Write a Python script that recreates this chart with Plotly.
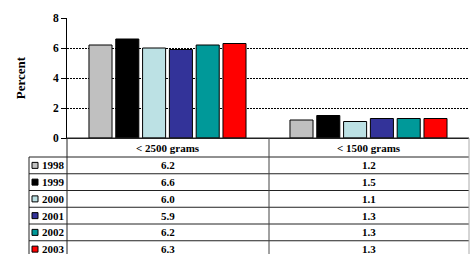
import plotly.graph_objects as go

categories = ["< 2500 grams", "< 1500 grams"]
years = ["1998", "1999", "2000", "2001", "2002", "2003"]
values = {
    "1998": [6.2, 1.2],
    "1999": [6.6, 1.5],
    "2000": [6.0, 1.1],
    "2001": [5.9, 1.3],
    "2002": [6.2, 1.3],
    "2003": [6.3, 1.3],
}
colors = ["#C0C0C0", "#000000", "#BCE1E4", "#333399", "#009999", "#FF0000"]
y_ticks = [0, 2, 4, 6, 8]
y_title = "Percent"

W, H = 470, 254
L, R, T, B = 67, 1, 18, 116
PW, PH = W - L - R, H - T - B
FONT = "Liberation Serif, Times New Roman, serif"


def px(x):
    return (x - L) / PW


def py(y):
    return (H - B - y) / PH


fig = go.Figure()
for yr, c in zip(years, colors):
    fig.add_trace(go.Bar(
        x=categories, y=values[yr], name=yr,
        marker=dict(color=c, line=dict(color="#000000", width=1)),
        showlegend=False,
    ))

shapes = []
annotations = []
line_col = "#222222"

# table geometry (pixels)
x_leg, x_c0, x_c1, x_c2 = 29, 67, 269, 469
y_top, y_head = 138, 157
row_h = 16.75
n = len(years)
y_rows = [y_head + i * row_h for i in range(n + 1)]


def hline(x0, x1, y, col=line_col):
    shapes.append(dict(type="line", xref="paper", yref="paper",
                       x0=px(x0), x1=px(x1), y0=py(y), y1=py(y),
                       line=dict(color=col, width=1)))


def vline(x, y0, y1, col=line_col):
    shapes.append(dict(type="line", xref="paper", yref="paper",
                       x0=px(x), x1=px(x), y0=py(y0), y1=py(y1),
                       line=dict(color=col, width=1)))


hline(x_c0, x_c2, y_top)
for yy in y_rows:
    hline(x_leg, x_c2, yy)
vline(x_leg, y_head, y_rows[-1])
vline(x_c0, y_top, y_rows[-1])
vline(x_c1, y_top, y_rows[-1], "#444444")
vline(x_c2, y_top, y_rows[-1], "#AAAAAA")

col_centers = [(x_c0 + x_c1) / 2, (x_c1 + x_c2) / 2]
tfont = dict(family=FONT, size=11, color="#000000")

for cx, cat in zip(col_centers, categories):
    annotations.append(dict(xref="paper", yref="paper", x=px(cx), y=py((y_top + y_head) / 2),
                            text="<b>" + cat + "</b>", showarrow=False, font=tfont,
                            xanchor="center", yanchor="middle"))

for i, (yr, c) in enumerate(zip(years, colors)):
    yc = (y_rows[i] + y_rows[i + 1]) / 2
    shapes.append(dict(type="rect", xref="paper", yref="paper",
                       x0=px(32), x1=px(38), y0=py(yc - 3), y1=py(yc + 3),
                       fillcolor=c, line=dict(color="#000000", width=1)))
    annotations.append(dict(xref="paper", yref="paper", x=px(39.5), y=py(yc),
                            text="<b>" + yr + "</b>", showarrow=False, font=tfont,
                            xanchor="left", yanchor="middle"))
    for cx, v in zip(col_centers, values[yr]):
        annotations.append(dict(xref="paper", yref="paper", x=px(cx), y=py(yc),
                                text="<b>%.1f</b>" % v, showarrow=False, font=tfont,
                                xanchor="center", yanchor="middle"))

fig.update_layout(
    width=W, height=H,
    margin=dict(l=L, r=R, t=T, b=B, pad=0),
    paper_bgcolor="white", plot_bgcolor="white",
    barmode="group", bargap=0.2, bargroupgap=0.14,
    font=dict(family=FONT, size=11, color="#000000"),
    shapes=shapes, annotations=annotations,
    xaxis=dict(showticklabels=False, ticks="", showgrid=False, showline=True,
               linecolor="#222222", linewidth=1, zeroline=False),
    yaxis=dict(range=[0, 8], tickvals=y_ticks, ticktext=["<b>%d</b>" % t for t in y_ticks],
               ticks="outside", ticklen=5, tickcolor="#000000", tickwidth=1,
               showline=True, linecolor="#000000", linewidth=1,
               showgrid=True, gridcolor="#000000", griddash="2px,1px", gridwidth=1,
               zeroline=False, tickfont=dict(family=FONT, size=11.5),
               title=dict(text="<b>" + y_title + "</b>", standoff=24,
                          font=dict(family=FONT, size=13))),
)

fig.write_html("out.html",
               config={"displayModeBar": False},
               post_script="document.body.style.margin='0';document.body.style.padding='0';document.body.style.overflow='hidden';")
